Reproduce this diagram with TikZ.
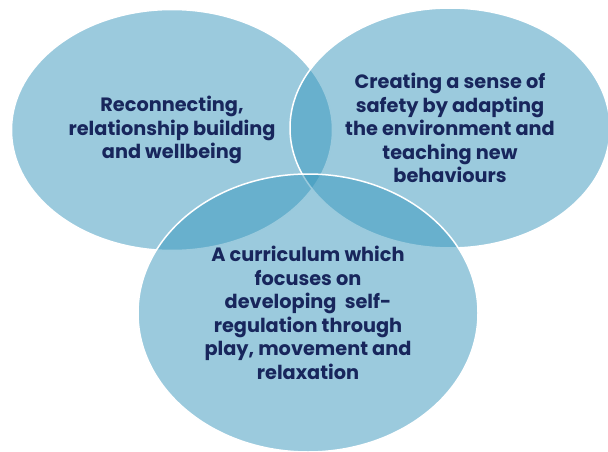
\documentclass[tikz,border=0pt]{standalone}
\usepackage{fontspec}
\setsansfont{Poppins}
\usepackage{tikz}
\usetikzlibrary{shapes.geometric}
\definecolor{vennblue}{RGB}{55,150,188}
\definecolor{textnavy}{RGB}{24,38,92}

\begin{document}
\begin{tikzpicture}[x=1pt,y=-1pt,
  venn/.style={ellipse,draw=white,line width=1.5pt,fill=vennblue,
    fill opacity=0.5,text opacity=1,inner sep=0pt,align=center,
    text=textnavy,font=\sffamily\bfseries\fontsize{19.3}{23.5}\selectfont}]

  \useasboundingbox (0,0) rectangle (608,452);

  \node [venn,minimum width=321,minimum height=241] (reconnect) at (172,130)
    {Reconnecting,\\relationship building\\and wellbeing};

  \node [venn,minimum width=320,minimum height=240] (safety) at (450,128)
    {Creating a sense of\\safety by adapting\\the environment and\\teaching new\\behaviours};

  \node [venn,minimum width=340,minimum height=278] (curriculum) at (308,313)
    {A curriculum which\\focuses on\\developing\ \ self-\\regulation through\\play, movement and\\relaxation};

\end{tikzpicture}
\end{document}
